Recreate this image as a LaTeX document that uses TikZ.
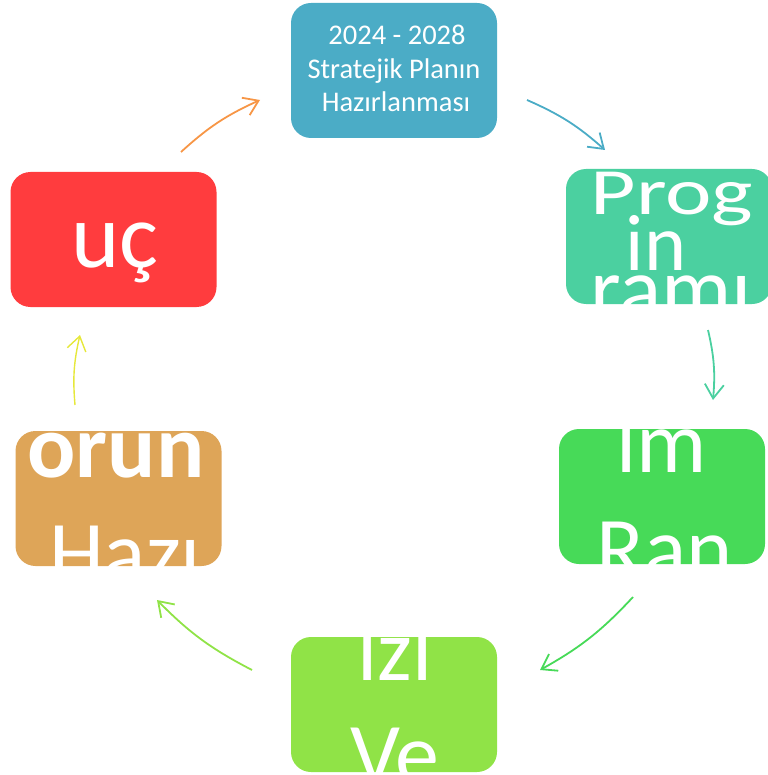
\documentclass[tikz,border=0pt]{standalone}
\usepackage{fontspec}
\setmainfont{Carlito}
\usetikzlibrary{arrows.meta}
\definecolor{planblue}{HTML}{4BACC6}
\definecolor{progteal}{HTML}{4BD0A0}
\definecolor{raporgreen}{HTML}{47DA58}
\definecolor{izlelime}{HTML}{90E347}
\definecolor{hazirtan}{HTML}{DEA558}
\definecolor{gucred}{HTML}{FF3C3E}
\definecolor{arrorange}{HTML}{F79646}
\definecolor{arryellow}{HTML}{E6E83A}
\begin{document}
\begin{tikzpicture}[x=1pt,y=1pt,
  box/.style={rounded corners=20pt,minimum width=206pt,minimum height=135pt,inner sep=0pt},
  txt/.style={text=white,inner sep=0pt,anchor=base},
  small/.style={txt,font=\fontsize{28.5}{33.5}\selectfont},
  big/.style={txt,font=\fontsize{88}{100}\selectfont},
  cyc/.style={line width=1.8pt,-{Straight Barb[length=14pt,width=19pt]},bend left=9}]
\useasboundingbox (0,0) rectangle (767,-775);
% boxes
\node[box,fill=planblue] (plan) at (394,-70.5) {};
\node[box,fill=progteal] (prog) at (669,-236.5) {};
\node[box,fill=raporgreen] (rapor) at (662,-496.5) {};
\node[box,fill=izlelime] (izle) at (394,-704.5) {};
\node[box,fill=hazirtan] (hazir) at (118.5,-498.5) {};
\node[box,fill=gucred] (guc) at (113.5,-239.5) {};
% texts
\node[small] (plan1) at (397,-45) {2024 - 2028};
\node[small] (plan2) at (394,-79) {Stratejik Planın};
\node[small] (plan3) at (396,-112) {Hazırlanması};
\begin{scope}
\clip[rounded corners=20pt] (prog.south west) rectangle (prog.north east);
\node[big] (prog1) at (672,-215) {\scalebox{1}[0.75]{Prog}};
\node[txt,font=\fontsize{80}{90}\selectfont] (prog2) at (656,-270) {in};
\node[big] (prog3) at (671,-318) {ramı};
\end{scope}
\begin{scope}
\clip[rounded corners=20pt] (rapor.south west) rectangle (rapor.north east);
\node[big] (rapor1) at (662,-472) {lm};
\node[big] (rapor2) at (665,-578) {Ran};
\end{scope}
\begin{scope}
\clip[rounded corners=20pt] (izle.south west) rectangle (izle.north east);
\node[big] (izle1) at (395,-680) {lzl};
\node[big] (izle2) at (395,-784) {Ve};
\end{scope}
\begin{scope}
\clip[rounded corners=20pt] (hazir.south west) rectangle (hazir.north east);
\node[big,font=\fontsize{90}{100}\selectfont\bfseries] (hazir1) at (116,-477) {orun};
\node[big] (hazir2) at (125,-582) {Hazı};
\end{scope}
\node[txt,font=\fontsize{92}{100}\selectfont] (guc1) at (115,-267) {uç};
% cycle arrows
\coordinate (a1) at (181,-152);
\coordinate (b1) at (260,-100);
\coordinate (a2) at (527,-100);
\coordinate (b2) at (605,-150);
\coordinate (a3) at (708,-330);
\coordinate (b3) at (713,-400);
\coordinate (a4) at (633,-597);
\coordinate (b4) at (540,-670);
\coordinate (a5) at (252,-670);
\coordinate (b5) at (157,-600);
\coordinate (a6) at (75,-405);
\coordinate (b6) at (80,-335);
\draw[cyc,arrorange] (a1) to (b1);
\draw[cyc,planblue] (a2) to (b2);
\draw[cyc,progteal] (a3) to (b3);
\draw[cyc,raporgreen] (a4) to (b4);
\draw[cyc,izlelime] (a5) to (b5);
\draw[cyc,arryellow,line width=1.4pt] (a6) to (b6);
\end{tikzpicture}
\end{document}
